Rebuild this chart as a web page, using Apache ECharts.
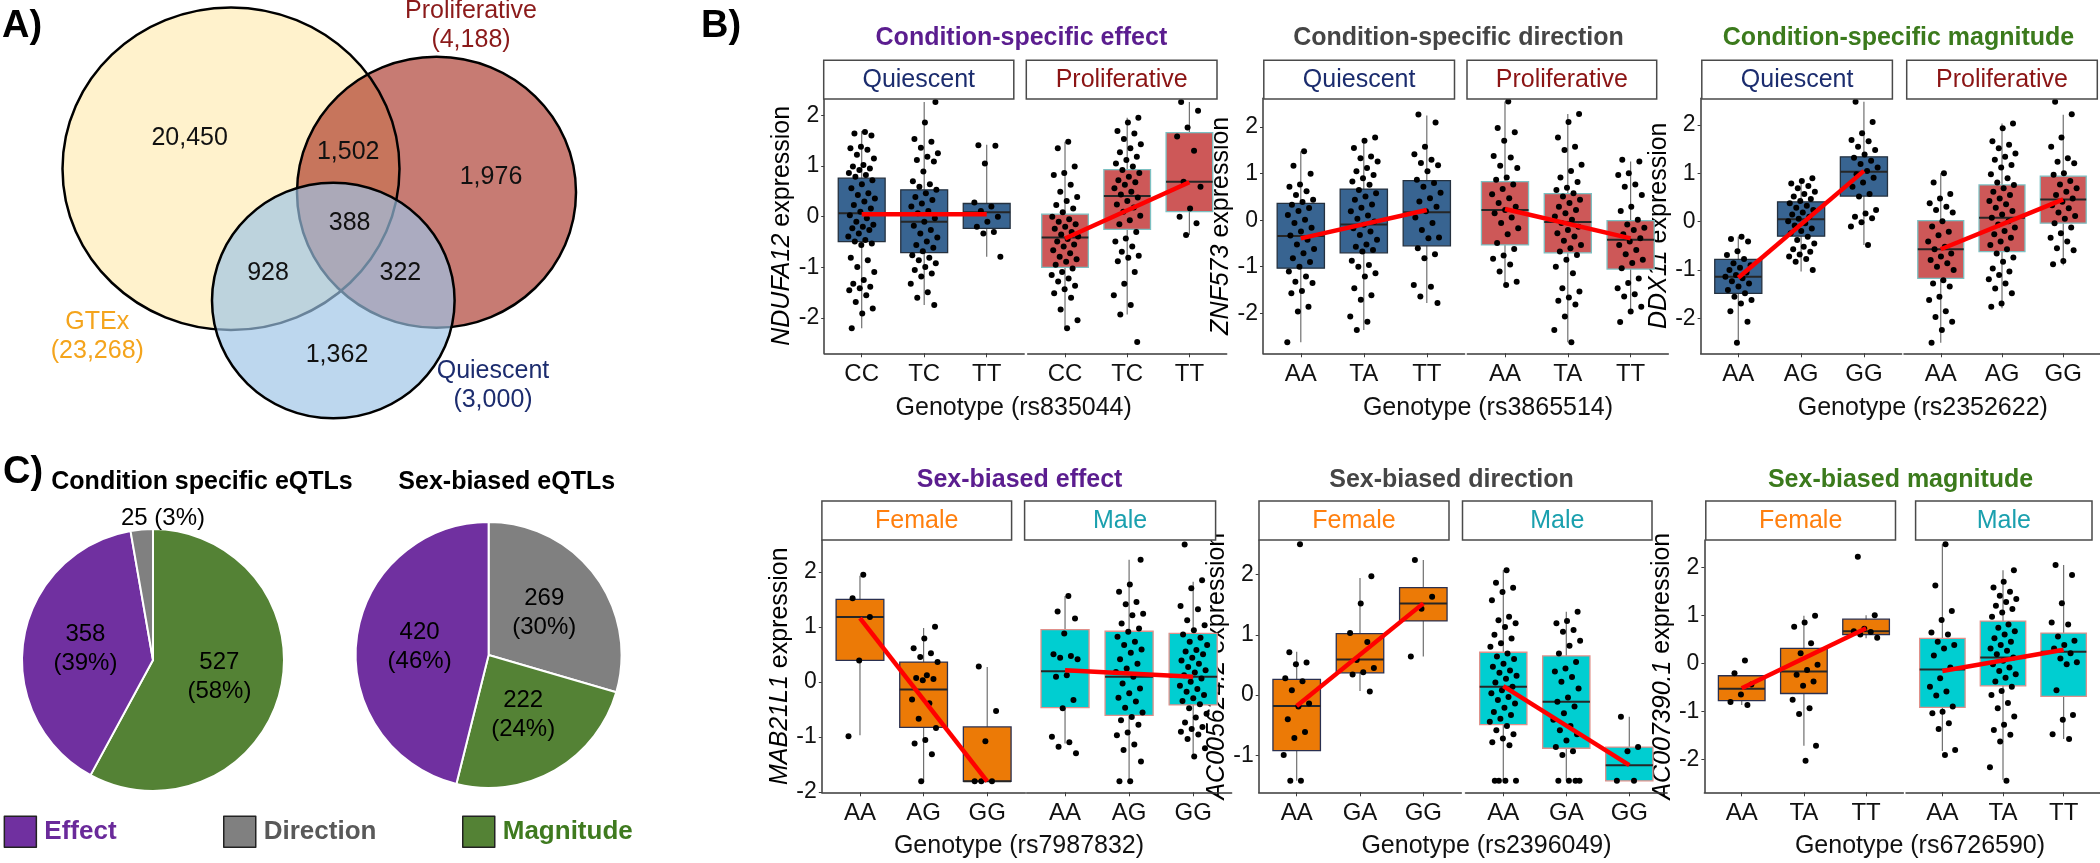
<!DOCTYPE html>
<html><head><meta charset="utf-8">
<script src="https://cdn.jsdelivr.net/npm/echarts@6/dist/echarts.min.js"></script>
<style>html,body{margin:0;padding:0;background:#fff}#c{width:2100px;height:863px}</style>
</head><body><div id="c"></div>
<script>
// ---------------- DATA ----------------
// Panel A: Venn
const vennSets = ['GTEx', 'Proliferative', 'Quiescent'];
const vennTotals = [23268, 4188, 3000];
const vennRegions = ['GTEx only', 'GTEx+Proliferative', 'Proliferative only', 'All three', 'GTEx+Quiescent', 'Proliferative+Quiescent', 'Quiescent only'];
const vennCounts = [20450, 1502, 1976, 388, 928, 322, 1362];

// Panel B: box plot summaries [min, Q1, median, Q3, max], jittered points, fitted line end values
const condEffectGenotypes = ['CC', 'TC', 'TT'];
const condEffectQuiBox = [[-2.20, -0.49, 0.07, 0.76, 1.69], [-1.74, -0.71, -0.10, 0.53, 2.26], [-0.79, -0.23, 0.09, 0.26, 1.42]];
const condEffectQuiPts = [
  [1.67,1.64,1.60,1.38,1.35,1.32,1.22,1.15,1.02,0.99,0.95,0.92,0.86,0.82,0.79,0.72,0.64,0.56,0.46,0.43,0.36,0.30,0.23,0.16,0.10,0.03,-0.03,-0.10,-0.16,-0.20,-0.23,-0.26,-0.33,-0.39,-0.46,-0.49,-0.53,-0.56,-0.81,-0.86,-0.99,-1.09,-1.25,-1.32,-1.38,-1.41,-1.45,-1.55,-1.68,-1.81,-1.91,-2.20],
  [2.26,1.86,1.53,1.48,1.36,1.25,1.18,1.12,1.09,0.89,0.70,0.64,0.59,0.53,0.46,0.39,0.33,0.26,0.20,0.11,0.07,-0.03,-0.10,-0.18,-0.26,-0.33,-0.41,-0.49,-0.56,-0.61,-0.68,-0.76,-0.81,-0.86,-0.92,-0.99,-1.05,-1.12,-1.18,-1.32,-1.49,-1.60,-1.74],
  [1.41,1.40,1.05,0.28,0.20,0.11,0.00,-0.10,-0.20,-0.30,-0.33,-0.79]];
const condEffectQuiFit = [0.05, 0.05];
const condEffectProBox = [[-2.20, -1.00, -0.41, 0.05, 1.48], [-1.93, -0.25, 0.41, 0.93, 1.95], [-0.36, 0.10, 0.69, 1.66, 2.26]];
const condEffectProPts = [
  [1.48,1.35,0.99,0.86,0.82,0.63,0.49,0.39,0.31,0.23,0.16,0.09,0.00,-0.05,-0.10,-0.15,-0.20,-0.24,-0.30,-0.35,-0.39,-0.44,-0.49,-0.55,-0.59,-0.66,-0.72,-0.79,-0.84,-0.89,-0.95,-1.02,-1.09,-1.15,-1.22,-1.28,-1.36,-1.43,-1.51,-1.60,-1.83,-2.04,-2.20],
  [1.95,1.86,1.69,1.64,1.53,1.43,1.35,1.27,1.18,1.12,1.05,0.99,0.92,0.86,0.79,0.72,0.68,0.63,0.56,0.49,0.44,0.38,0.31,0.24,0.18,0.10,0.02,-0.07,-0.15,-0.30,-0.43,-0.49,-0.59,-0.69,-0.77,-0.81,-0.88,-1.09,-1.32,-1.55,-1.74,-1.93,-2.47],
  [2.26,2.09,1.76,1.58,1.30,0.69,0.59,0.16,0.00,-0.13,-0.36]];
const condEffectProFit = [-0.43, 0.68];

const condDirectionGenotypes = ['AA', 'TA', 'TT'];
const condDirectionQuiBox = [[-2.62, -1.03, -0.34, 0.36, 1.48], [-2.36, -0.70, -0.09, 0.67, 1.76], [-1.78, -0.55, 0.17, 0.85, 2.25]];
const condDirectionQuiPts = [
  [1.48,1.17,1.00,0.77,0.72,0.62,0.54,0.44,0.39,0.33,0.26,0.20,0.11,0.01,-0.06,-0.16,-0.24,-0.33,-0.42,-0.52,-0.62,-0.71,-0.82,-0.90,-1.00,-1.10,-1.21,-1.32,-1.35,-1.52,-1.57,-1.86,-1.96,-2.62],
  [1.78,1.71,1.55,1.37,1.33,1.26,1.12,1.05,0.97,0.90,0.83,0.76,0.65,0.58,0.51,0.44,0.34,0.27,0.19,0.10,0.03,-0.03,-0.10,-0.17,-0.24,-0.32,-0.42,-0.52,-0.57,-0.64,-0.67,-0.87,-0.96,-1.00,-1.14,-1.21,-1.46,-1.61,-1.71,-2.07,-2.18,-2.36],
  [2.27,2.10,1.58,1.42,1.30,1.23,1.18,1.05,0.87,0.80,0.72,0.59,0.47,0.40,0.29,0.19,0.06,-0.06,-0.21,-0.37,-0.39,-0.60,-0.73,-0.82,-1.39,-1.43,-1.64,-1.78]];
const condDirectionQuiFit = [-0.39, 0.22];
const condDirectionProBox = [[-1.39, -0.53, 0.22, 0.83, 2.55], [-2.62, -0.70, -0.04, 0.57, 2.28], [-2.00, -1.05, -0.42, -0.01, 1.26]];
const condDirectionProPts = [
  [2.55,1.98,1.89,1.71,1.38,1.35,1.17,1.12,0.92,0.87,0.77,0.67,0.56,0.47,0.37,0.29,0.22,0.15,0.06,-0.06,-0.17,-0.30,-0.49,-0.62,-0.76,-0.83,-0.95,-1.10,-1.32,-1.39],
  [2.28,2.11,1.78,1.58,1.51,1.19,1.06,0.92,0.82,0.70,0.65,0.58,0.51,0.44,0.37,0.29,0.22,0.15,0.08,0.01,-0.06,-0.14,-0.21,-0.28,-0.35,-0.44,-0.53,-0.60,-0.67,-0.75,-0.85,-1.00,-1.14,-1.46,-1.53,-1.66,-1.73,-1.81,-2.07,-2.36,-2.62],
  [1.30,1.26,1.01,0.97,0.77,0.72,0.54,0.29,0.20,0.01,-0.09,-0.16,-0.21,-0.30,-0.39,-0.46,-0.53,-0.64,-0.73,-0.85,-0.92,-1.03,-1.25,-1.35,-1.46,-1.59,-1.64,-1.86,-1.96,-2.19]];
const condDirectionProFit = [0.24, -0.39];

const condMagnitudeGenotypes = ['AA', 'AG', 'GG'];
const condMagnitudeQuiBox = [[-2.50, -1.48, -1.14, -0.78, -0.31], [-1.03, -0.30, 0.05, 0.41, 0.90], [-0.48, 0.53, 1.03, 1.34, 2.48]];
const condMagnitudeQuiPts = [
  [-0.31,-0.36,-0.41,-0.61,-0.69,-0.77,-0.86,-0.90,-0.95,-1.00,-1.05,-1.10,-1.14,-1.17,-1.23,-1.28,-1.34,-1.41,-1.48,-1.55,-1.62,-1.69,-1.85,-2.07,-2.50],
  [0.90,0.84,0.79,0.74,0.69,0.62,0.57,0.52,0.47,0.43,0.38,0.33,0.29,0.24,0.19,0.15,0.10,0.06,0.01,-0.03,-0.08,-0.14,-0.19,-0.24,-0.31,-0.38,-0.45,-0.52,-0.57,-0.62,-0.68,-0.72,-0.77,-0.83,-1.00],
  [2.48,2.06,1.83,1.69,1.66,1.55,1.48,1.39,1.32,1.26,1.19,1.12,1.05,0.98,0.91,0.81,0.72,0.57,0.52,0.24,0.17,0.10,0.07,-0.01,-0.10,-0.48]];
const condMagnitudeQuiFit = [-1.16, 1.05];
const condMagnitudeProBox = [[-2.50, -1.17, -0.57, 0.02, 1.00], [-1.79, -0.62, 0.08, 0.76, 2.03], [-0.90, -0.03, 0.46, 0.94, 2.21]];
const condMagnitudeProPts = [
  [1.00,0.81,0.57,0.48,0.38,0.31,0.24,0.19,0.01,-0.10,-0.21,-0.28,-0.41,-0.52,-0.57,-0.66,-0.72,-0.79,-0.86,-0.93,-1.00,-1.21,-1.28,-1.34,-1.55,-1.62,-1.85,-1.97,-2.07,-2.24,-2.50],
  [2.03,1.93,1.66,1.59,1.52,1.41,1.34,1.28,1.17,1.12,0.98,0.90,0.81,0.76,0.69,0.62,0.55,0.48,0.43,0.36,0.29,0.22,0.15,0.08,0.01,-0.06,-0.12,-0.19,-0.26,-0.33,-0.41,-0.48,-0.57,-0.66,-0.74,-0.83,-0.97,-1.03,-1.10,-1.19,-1.28,-1.38,-1.48,-1.69,-1.76],
  [2.48,2.22,1.74,1.55,1.31,1.24,1.21,1.00,0.97,0.84,0.77,0.69,0.62,0.55,0.48,0.41,0.34,0.28,0.19,0.12,0.06,-0.03,-0.12,-0.24,-0.33,-0.41,-0.55,-0.59,-0.81,-0.88]];
const condMagnitudeProFit = [-0.57, 0.46];

const sexEffectGenotypes = ['AA', 'AG', 'GG'];
const sexEffectFemBox = [[-0.97, 0.39, 1.18, 1.50, 1.93], [-1.81, -0.83, -0.14, 0.36, 0.98], [-1.81, -1.81, -1.81, -0.82, 0.27]];
const sexEffectFemPts = [
  [1.95,1.52,1.18,0.39,-0.99],
  [1.00,0.79,0.61,0.52,0.45,0.36,0.12,0.07,0.05,0.03,-0.32,-0.39,-0.67,-0.84,-1.06,-1.12,-1.32,-1.81],
  [0.28,-0.53,-1.08,-1.81,-1.81,-1.81]];
const sexEffectFemFit = [1.16, -1.81];
const sexEffectMalBox = [[-1.12, -0.47, 0.19, 0.95, 1.56], [-1.81, -0.61, 0.09, 0.92, 2.22], [-1.36, -0.42, 0.09, 0.88, 1.82]];
const sexEffectMalPts = [
  [1.56,1.28,1.15,0.88,0.50,0.47,0.44,0.41,0.12,0.09,-0.33,-0.48,-1.00,-1.10,-1.18,-1.30],
  [2.22,1.77,1.64,1.45,1.41,1.24,1.21,1.06,0.97,0.91,0.82,0.73,0.67,0.59,0.53,0.41,0.33,0.24,0.18,0.09,-0.03,-0.12,-0.21,-0.29,-0.36,-0.47,-0.56,-0.64,-0.70,-0.78,-0.92,-0.97,-1.14,-1.24,-1.45,-1.81,-1.81],
  [2.50,1.85,1.70,1.38,1.32,1.12,1.03,0.94,0.86,0.80,0.73,0.67,0.58,0.55,0.50,0.44,0.39,0.33,0.27,0.21,0.17,0.12,0.06,0.00,-0.07,-0.13,-0.18,-0.24,-0.30,-0.35,-0.41,-0.48,-0.58,-0.65,-0.74,-0.82,-0.86,-0.91,-0.96,-1.04,-1.21,-1.36]];
const sexEffectMalFit = [0.21, 0.09];

const sexDirectionGenotypes = ['AA', 'GA', 'GG'];
const sexDirectionFemBox = [[-1.42, -0.92, -0.18, 0.26, 0.72], [0.07, 0.37, 0.59, 1.02, 1.94], [0.64, 1.23, 1.52, 1.78, 2.24]];
const sexDirectionFemPts = [
  [2.50,0.71,0.54,0.51,0.28,0.23,0.08,-0.14,-0.19,-0.40,-0.61,-0.71,-0.99,-1.42,-1.42],
  [1.97,1.52,1.03,0.88,0.58,0.45,0.38,0.34,0.06],
  [2.24,1.63,1.43,0.64]];
const sexDirectionFemFit = [-0.18, 1.52];
const sexDirectionMalBox = [[-1.42, -0.49, 0.14, 0.71, 2.07], [-1.42, -0.88, -0.11, 0.65, 1.38], [-1.42, -1.42, -1.16, -0.86, -0.36]];
const sexDirectionMalPts = [
  [2.07,1.86,1.78,1.71,1.57,1.30,1.24,1.19,1.13,1.00,0.94,0.86,0.80,0.69,0.64,0.60,0.52,0.47,0.41,0.37,0.32,0.27,0.21,0.14,0.08,0.03,-0.03,-0.08,-0.14,-0.21,-0.28,-0.33,-0.39,-0.44,-0.51,-0.58,-0.65,-0.72,-0.78,-0.83,-1.42,-1.42,-1.42,-1.42],
  [1.38,1.23,1.19,1.08,1.05,0.90,0.82,0.69,0.55,0.44,0.39,0.30,0.22,0.11,-0.04,-0.11,-0.19,-0.30,-0.41,-0.51,-0.58,-0.65,-0.75,-0.86,-0.93,-0.99,-1.42,-1.42,-1.42,-1.42],
  [-0.36,-0.86,-0.93,-1.42,-1.42]];
const sexDirectionMalFit = [0.15, -1.16];

const sexMagnitudeGenotypes = ['AA', 'TA', 'TT'];
const sexMagnitudeFemBox = [[-0.87, -0.78, -0.53, -0.26, -0.26], [-1.72, -0.63, -0.17, 0.31, 0.99], [0.52, 0.60, 0.67, 0.92, 1.00]];
const sexMagnitudeFemPts = [
  [0.06,-0.21,-0.44,-0.65,-0.81,-0.87],
  [0.99,0.85,0.76,0.42,0.21,-0.03,-0.14,-0.24,-0.38,-0.47,-0.76,-0.94,-1.06,-1.72,-2.03],
  [2.22,1.00,0.72,0.67,0.65,0.60,0.53]];
const sexMagnitudeFemFit = [-0.52, 0.73];
const sexMagnitudeMalBox = [[-1.83, -0.92, -0.13, 0.52, 2.48], [-2.43, -0.47, 0.12, 0.88, 1.94], [-1.58, -0.69, 0.24, 0.63, 2.05]];
const sexMagnitudeMalPts = [
  [2.48,1.62,1.09,0.90,0.64,0.60,0.45,0.38,0.31,0.16,-0.09,-0.31,-0.49,-0.59,-0.67,-0.90,-1.01,-1.04,-1.25,-1.37,-1.81,-1.91],
  [1.94,1.70,1.58,1.49,1.41,1.34,1.28,1.20,1.13,1.06,0.97,0.81,0.74,0.67,0.60,0.52,0.45,0.38,0.31,0.26,0.19,0.12,0.05,-0.02,-0.09,-0.16,-0.23,-0.30,-0.38,-0.49,-0.58,-0.66,-0.83,-0.94,-1.11,-1.28,-1.39,-1.49,-1.63,-2.17,-2.45],
  [2.05,1.84,1.25,0.85,0.81,0.56,0.47,0.38,0.31,0.21,0.10,0.02,-0.02,-0.56,-1.08,-1.18,-1.48,-1.58]];
const sexMagnitudeMalFit = [-0.16, 0.28];

const yTicksFull = [-2, -1, 0, 1, 2];
const yTicksShort = [-1, 0, 1, 2];

// Panel C: pies
const pieCategories = ['Effect', 'Direction', 'Magnitude'];
const conditionCounts = [358, 25, 527];
const sexCounts = [420, 269, 222];

// ---------------- STYLE / LAYOUT ----------------
const FONT = "'Liberation Sans', Arial, Helvetica, sans-serif";
const COL = {
  quiFill: '#386491', proFill: '#CD5858', femFill: '#EC7A06', malFill: '#00CED1',
  quiText: '#1b2c6e', proText: '#8b1414', femText: '#FF7F0E', malText: '#1aa0ae',
  effect: '#7030A0', direction: '#808080', magnitude: '#548235'
};
const row = [{top: 98.3, h: 255, stripY: 60.3, stripH: 38.7, titleY: 38.3, tickY: 377.3, xTitleY: 408.3},
             {top: 540, h: 252.3, stripY: 501, stripH: 39, titleY: 480, tickY: 817, xTitleY: 846}];

const facets = [
  {r:0, left:824.2, width:200, yr:[-2.694,2.335], cats:condEffectGenotypes, box:condEffectQuiBox, pts:condEffectQuiPts, fit:condEffectQuiFit, fill:COL.quiFill, border:'#25313f', strip:'Quiescent', sCol:COL.quiText, sx:823.7, sw:190.1, gene:'NDUFA12', gap:20, ticks:yTicksFull},
  {r:0, left:1027.7, width:199, yr:[-2.694,2.335], cats:condEffectGenotypes, box:condEffectProBox, pts:condEffectProPts, fit:condEffectProFit, fill:COL.proFill, border:'#7cc0c2', strip:'Proliferative', sCol:COL.proText, sx:1026.3, sw:190.7},
  {r:0, left:1263, width:201.6, yr:[-2.86,2.62], cats:condDirectionGenotypes, box:condDirectionQuiBox, pts:condDirectionQuiPts, fit:condDirectionQuiFit, fill:COL.quiFill, border:'#25313f', strip:'Quiescent', sCol:COL.quiText, sx:1263.8, sw:190.7, gene:'ZNF573', gap:19, ticks:yTicksFull},
  {r:0, left:1467.3, width:201, yr:[-2.86,2.62], cats:condDirectionGenotypes, box:condDirectionProBox, pts:condDirectionProPts, fit:condDirectionProFit, fill:COL.proFill, border:'#7cc0c2', strip:'Proliferative', sCol:COL.proText, sx:1467, sw:189.7},
  {r:0, left:1700.6, width:201, yr:[-2.72,2.55], cats:condMagnitudeGenotypes, box:condMagnitudeQuiBox, pts:condMagnitudeQuiPts, fit:condMagnitudeQuiFit, fill:COL.quiFill, border:'#25313f', strip:'Quiescent', sCol:COL.quiText, sx:1701.8, sw:190.6, gene:'DDX11', gap:15, ticks:yTicksFull},
  {r:0, left:1904, width:202, yr:[-2.72,2.55], cats:condMagnitudeGenotypes, box:condMagnitudeProBox, pts:condMagnitudeProPts, fit:condMagnitudeProFit, fill:COL.proFill, border:'#7cc0c2', strip:'Proliferative', sCol:COL.proText, sx:1906.7, sw:190.6},
  {r:1, left:821.8, width:203.6, yr:[-2.01,2.58], cats:sexEffectGenotypes, box:sexEffectFemBox, pts:sexEffectFemPts, fit:sexEffectFemFit, fill:COL.femFill, border:'#2a3050', strip:'Female', sCol:COL.femText, sx:821.9, sw:189.7, gene:'MAB21L1', gap:22, ticks:yTicksFull},
  {r:1, left:1026.6, width:205, yr:[-2.01,2.58], cats:sexEffectGenotypes, box:sexEffectMalBox, pts:sexEffectMalPts, fit:sexEffectMalFit, fill:COL.malFill, border:'#e0908a', strip:'Male', sCol:COL.malText, sx:1024.6, sw:191},
  {r:1, left:1258.7, width:202.6, yr:[-1.61,2.57], cats:sexDirectionGenotypes, box:sexDirectionFemBox, pts:sexDirectionFemPts, fit:sexDirectionFemFit, fill:COL.femFill, border:'#2a3050', strip:'Female', sCol:COL.femText, sx:1259, sw:190, gene:'AC005624.2', gap:11, ticks:yTicksShort},
  {r:1, left:1465.5, width:201.6, yr:[-1.61,2.57], cats:sexDirectionGenotypes, box:sexDirectionMalBox, pts:sexDirectionMalPts, fit:sexDirectionMalFit, fill:COL.malFill, border:'#e0908a', strip:'Male', sCol:COL.malText, sx:1462.5, sw:189.5},
  {r:1, left:1704.4, width:199, yr:[-2.69,2.57], cats:sexMagnitudeGenotypes, box:sexMagnitudeFemBox, pts:sexMagnitudeFemPts, fit:sexMagnitudeFemFit, fill:COL.femFill, border:'#2a3050', strip:'Female', sCol:COL.femText, sx:1705.8, sw:189.7, gene:'AC007390.1', gap:16, ticks:yTicksFull},
  {r:1, left:1906, width:198.4, yr:[-2.69,2.57], cats:sexMagnitudeGenotypes, box:sexMagnitudeMalBox, pts:sexMagnitudeMalPts, fit:sexMagnitudeMalFit, fill:COL.malFill, border:'#e0908a', strip:'Male', sCol:COL.malText, sx:1915.6, sw:176.4}
];

const panelTitles = [
  {t:'Condition-specific effect', x:1021.4, r:0, c:'#5b1d8f'},
  {t:'Condition-specific direction', x:1458.5, r:0, c:'#454545'},
  {t:'Condition-specific magnitude', x:1898.5, r:0, c:'#3b7a1c'},
  {t:'Sex-biased effect', x:1019.6, r:1, c:'#5b1d8f'},
  {t:'Sex-biased direction', x:1451.5, r:1, c:'#454545'},
  {t:'Sex-biased magnitude', x:1900.6, r:1, c:'#3b7a1c'}
];
const xTitles = [
  {t:'Genotype (rs835044)', x:1013.7, r:0}, {t:'Genotype (rs3865514)', x:1488, r:0}, {t:'Genotype (rs2352622)', x:1922.8, r:0},
  {t:'Genotype (rs7987832)', x:1019, r:1}, {t:'Genotype (rs2396049)', x:1486.5, r:1}, {t:'Genotype (rs6726590)', x:1920, r:1}
];

function txt(x, y, text, size, opt) {
  opt = opt || {};
  return {type:'text', x:x, y:y, silent:true, z:opt.z || 20, style:{
    text:text, x:0, y:0, fill:opt.color || '#000', fontSize:size, fontFamily:FONT,
    fontWeight:opt.bold ? 'bold' : 'normal', fontStyle:opt.italic ? 'italic' : 'normal',
    align:opt.align || 'center', textAlign:opt.align || 'center', verticalAlign:'middle', textVerticalAlign:'middle'}};
}

const grid = [], xAxis = [], yAxis = [], series = [], graphic = [];

facets.forEach((f, k) => {
  const R = row[f.r];
  grid.push({left:f.left, top:R.top, width:f.width, height:R.h, containLabel:false});
  xAxis.push({type:'value', gridIndex:k, min:0.4, max:3.6,
    axisLine:{show:true, onZero:false, lineStyle:{color:'#3a3a3a', width:1.5}},
    axisTick:{show:true, customValues:[1,2,3], length:4, lineStyle:{color:'#3a3a3a'}},
    axisLabel:{customValues:[1,2,3], formatter:(v) => f.cats[Math.round(v) - 1] || '', fontSize:24, color:'#111', fontFamily:FONT, margin:9},
    splitLine:{show:false}});
  const ya = {type:'value', gridIndex:k, min:f.yr[0], max:f.yr[1], show:!!f.gene,
    axisLine:{show:true, onZero:false, lineStyle:{color:'#3a3a3a', width:1.5}},
    axisTick:{show:true, customValues:f.ticks || yTicksFull, length:3, lineStyle:{color:'#3a3a3a'}},
    axisLabel:{customValues:f.ticks || yTicksFull, fontSize:23, color:'#111', fontFamily:FONT, margin:5},
    splitLine:{show:false}};
  if (f.gene) {
    ya.name = '{i|' + f.gene + '} expression';
    ya.nameLocation = 'middle';
    ya.nameGap = f.gap;
    ya.nameTextStyle = {fontSize:25, color:'#000', fontFamily:FONT, rich:{i:{fontSize:25, fontStyle:'italic', fontFamily:FONT, color:'#000'}}};
  }
  yAxis.push(ya);

  const fill = f.fill, border = f.border;
  series.push({type:'custom', xAxisIndex:k, yAxisIndex:k, silent:true, z:2,
    encode:{x:0, y:[1,2,3,4,5]},
    data:f.box.map((b, i) => [i + 1].concat(b)),
    renderItem:function (params, api) {
      const x = api.value(0);
      const lo = api.coord([x, api.value(1)]), q1 = api.coord([x, api.value(2)]),
            md = api.coord([x, api.value(3)]), q3 = api.coord([x, api.value(4)]), hi = api.coord([x, api.value(5)]);
      const w = api.size([0.75, 0])[0];
      return {type:'group', children:[
        {type:'line', shape:{x1:lo[0], y1:lo[1], x2:hi[0], y2:hi[1]}, style:{stroke:'#707070', lineWidth:1.2}},
        {type:'rect', shape:{x:lo[0] - w / 2, y:q3[1], width:w, height:Math.max(q1[1] - q3[1], 0.5)}, style:{fill:fill, stroke:border, lineWidth:1.3}},
        {type:'line', shape:{x1:lo[0] - w / 2, y1:md[1], x2:lo[0] + w / 2, y2:md[1]}, style:{stroke:'#262626', lineWidth:2}}
      ]};
    }});
  const pts = [];
  f.pts.forEach((arr, g) => arr.forEach((v, j) => {
    const jit = (((j + 1) * 0.6180339887 + g * 0.29) % 1 - 0.5) * 0.44;
    pts.push([g + 1 + jit, v]);
  }));
  series.push({type:'scatter', xAxisIndex:k, yAxisIndex:k, silent:true, z:3, symbolSize:6,
    itemStyle:{color:'#000', opacity:1}, data:pts});
  series.push({type:'line', xAxisIndex:k, yAxisIndex:k, silent:true, z:4, symbol:'none',
    lineStyle:{color:'#ff0000', width:4.5}, data:[[1, f.fit[0]], [3, f.fit[1]]]});

  graphic.push({type:'rect', silent:true, z:5, shape:{x:f.sx, y:R.stripY, width:f.sw, height:R.stripH}, style:{fill:'#fff', stroke:'#4a4a4a', lineWidth:1.5}});
  graphic.push(txt(f.sx + f.sw / 2, R.stripY + R.stripH / 2 + 0.5, f.strip, 25, {color:f.sCol}));
});

panelTitles.forEach(p => graphic.push(txt(p.x, row[p.r].titleY, p.t, 25, {bold:true, color:p.c})));
xTitles.forEach(p => graphic.push(txt(p.x, row[p.r].xTitleY, p.t, 25, {color:'#111'})));

// Panel letters
graphic.push(txt(22, 27, 'A)', 38, {bold:true}));
graphic.push(txt(721, 27, 'B)', 38, {bold:true}));
graphic.push(txt(23, 473, 'C)', 38, {bold:true}));

// ---- Venn (panel A) ----
const fmt = (n) => n.toLocaleString('en-US');
graphic.push({type:'ellipse', silent:true, z:1, shape:{cx:231, cy:168.7, rx:168.5, ry:161.3}, style:{fill:'#FFF2CC', stroke:'#000', lineWidth:2.5}});
graphic.push({type:'ellipse', silent:true, z:2, shape:{cx:436.5, cy:192.2, rx:139.5, ry:135.5}, style:{fill:'#C77B73', stroke:'#000', lineWidth:2.5, blend:'multiply'}});
graphic.push({type:'ellipse', silent:true, z:3, shape:{cx:333.3, cy:300.5, rx:121.3, ry:117.8}, style:{fill:'rgba(157,195,230,0.67)', stroke:'#000', lineWidth:2.5}});
const vennLabelPos = [[189.7, 138.3], [348.2, 151.7], [491, 176.7], [349.6, 223.3], [268, 273.3], [400.4, 273.3], [337, 355]];
vennCounts.forEach((c, i) => graphic.push(txt(vennLabelPos[i][0], vennLabelPos[i][1], fmt(c), 25, {color:'#111'})));
const vennSetPos = [[97.3, 321.7, '#F4A41C'], [471, 11, '#8b1a1a'], [493, 370.7, '#1c2c6e']];
vennSets.forEach((s, i) => {
  graphic.push(txt(vennSetPos[i][0], vennSetPos[i][1], s, 25, {color:vennSetPos[i][2]}));
  graphic.push(txt(vennSetPos[i][0], vennSetPos[i][1] + 29.5, '(' + fmt(vennTotals[i]) + ')', 25, {color:vennSetPos[i][2]}));
});

// ---- Pies (panel C) ----
const catColor = {Effect:COL.effect, Direction:COL.direction, Magnitude:COL.magnitude};
const pieOrder1 = ['Magnitude', 'Effect', 'Direction'];
const pieOrder2 = ['Direction', 'Magnitude', 'Effect'];
function pieData(counts, order, hideSmall) {
  return order.map(name => {
    const v = counts[pieCategories.indexOf(name)];
    const d = {name:name, value:v, itemStyle:{color:catColor[name]}};
    if (hideSmall && name === hideSmall) d.label = {show:false};
    return d;
  });
}
const pieCommon = {type:'pie', startAngle:90, clockwise:true, percentPrecision:0, silent:true,
  emphasis:{disabled:true}, itemStyle:{borderColor:'#fff', borderWidth:2},
  label:{show:true, position:'inside', formatter:'{c}\n({d}%)', fontSize:24, lineHeight:29, color:'#000', fontFamily:FONT},
  labelLine:{show:false}};
series.push(Object.assign({}, pieCommon, {center:[153, 660], radius:131, data:pieData(conditionCounts, pieOrder1, 'Direction')}));
series.push(Object.assign({}, pieCommon, {center:[488.6, 655], radius:133, data:pieData(sexCounts, pieOrder2, null)}));
const condTotal = conditionCounts.reduce((a, b) => a + b, 0);
const dirIdx = pieCategories.indexOf('Direction');
graphic.push(txt(163, 518, conditionCounts[dirIdx] + ' (' + Math.round(conditionCounts[dirIdx] / condTotal * 100) + '%)', 24, {color:'#000'}));
graphic.push(txt(202, 481.7, 'Condition specific eQTLs', 25, {bold:true}));
graphic.push(txt(506.7, 481.7, 'Sex-biased eQTLs', 25, {bold:true}));

const legendLefts = [3.6, 223, 462];
const legendTextColors = ['#6a2a9a', '#595959', '#3f7a1f'];
const legend = pieCategories.map((name, i) => ({
  data:[{name:name, textStyle:{color:legendTextColors[i]}}],
  left:legendLefts[i], top:815.5, itemWidth:32, itemHeight:31, padding:0, selectedMode:false,
  icon:'rect', itemStyle:{borderColor:'#222', borderWidth:1.5},
  textStyle:{fontSize:26, fontWeight:'bold', fontFamily:FONT, padding:[0, 0, 0, 3]}
}));

const chart = echarts.init(document.getElementById('c'), null, {renderer:'canvas', width:2100, height:863});
chart.setOption({
  animation:false, backgroundColor:'#fff',
  grid:grid, xAxis:xAxis, yAxis:yAxis, series:series, legend:legend, graphic:graphic
});
</script></body></html>
